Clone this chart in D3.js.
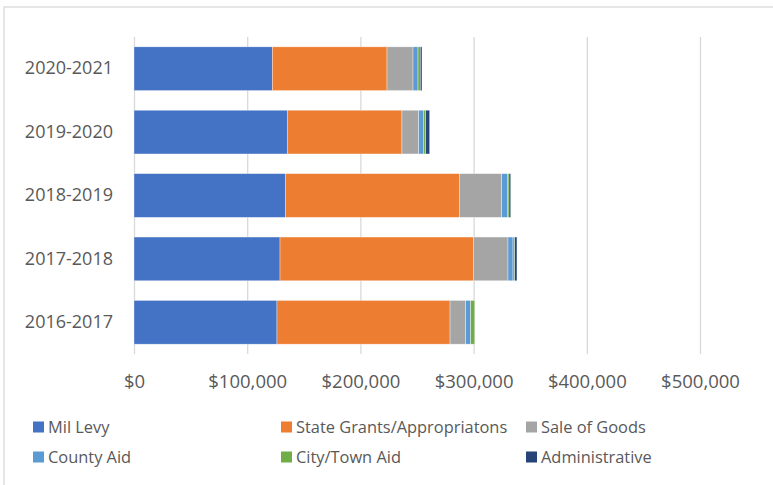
<!DOCTYPE html>
<html>
<head>
<meta charset="utf-8">
<script src="https://cdn.jsdelivr.net/npm/d3@7"></script>
<style>
  html, body { margin: 0; padding: 0; background: #fff; }
  svg { display: block; font-family: "Open Sans", "Liberation Sans", sans-serif; }
</style>
</head>
<body>
<svg id="chart" width="773" height="485"></svg>
<script>
// Fiscal years, top to bottom
const years = ["2020-2021", "2019-2020", "2018-2019", "2017-2018", "2016-2017"];

// Revenue by source, dollars, one value per fiscal year
const milLevy      = [122200, 135400, 133700, 129000, 126300];
const stateGrants  = [101300, 101300, 153700, 171100, 152900];
const saleOfGoods  = [ 23000,  14800,  37400,  30300,  13800];
const countyAid    = [  4400,   4100,   5000,   4400,   4400];
const cityTownAid  = [  2000,   2100,   1500,   1500,   3600];
const administrative = [1500,   3500,   1500,   2000,      0];

const seriesNames = ["Mil Levy", "State Grants/Appropriatons", "Sale of Goods",
                     "County Aid", "City/Town Aid", "Administrative"];
const seriesValues = [milLevy, stateGrants, saleOfGoods, countyAid, cityTownAid, administrative];
const seriesColors = ["#4472C4", "#ED7D31", "#A5A5A5", "#5B9BD5", "#70AD47", "#264478"];

const tickValues = [0, 100000, 200000, 300000, 400000, 500000];

const svg = d3.select("#chart");

// outer chart frame
svg.append("rect")
  .attr("x", 4).attr("y", 7)
  .attr("width", 800).attr("height", 500)
  .attr("fill", "none")
  .attr("stroke", "#D9D9D9")
  .attr("stroke-width", 1.3);

const plot = { left: 134, right: 700, top: 37, bottom: 354 };

const x = d3.scaleLinear().domain([0, 500000]).range([plot.left, plot.right]);
const y = d3.scaleBand().domain(years).range([plot.top, plot.bottom])
  .paddingInner(0.31).paddingOuter(0.155);

// rows for stacking
const rows = years.map((yr, i) => {
  const r = { year: yr };
  seriesNames.forEach((s, j) => { r[s] = seriesValues[j][i]; });
  return r;
});
const stacked = d3.stack().keys(seriesNames)(rows);

// vertical gridlines
const grid = svg.append("g")
  .attr("transform", `translate(0,${plot.bottom})`)
  .call(d3.axisBottom(x).tickValues(tickValues)
    .tickSize(-(plot.bottom - plot.top)).tickFormat(""));
grid.select(".domain").remove();
grid.selectAll(".tick line").attr("stroke", "#D9D9D9").attr("stroke-width", 1.3);

// stacked bars
svg.append("g").selectAll("g")
  .data(stacked)
  .join("g")
  .attr("fill", (d, i) => seriesColors[i])
  .selectAll("rect")
  .data(d => d.map(v => ({ v, year: v.data.year })))
  .join("rect")
  .attr("x", d => x(d.v[0]))
  .attr("y", d => y(d.year))
  .attr("width", d => Math.max(0, x(d.v[1]) - x(d.v[0])))
  .attr("height", y.bandwidth())
  .attr("stroke", "#fff")
  .attr("stroke-opacity", 0.6)
  .attr("stroke-width", 0.6);

// x axis labels
const fmt = v => "$" + d3.format(",")(v);
const xAxis = svg.append("g")
  .attr("transform", `translate(0,${plot.bottom})`)
  .call(d3.axisBottom(x).tickValues(tickValues).tickSize(0).tickPadding(0).tickFormat(fmt));
xAxis.select(".domain").remove();
xAxis.selectAll("text")
  .attr("y", 34)
  .attr("dy", null)
  .attr("fill", "#595959")
  .style("font-size", "18.5px")
  .style("font-family", "'Open Sans', sans-serif");

// y axis labels
const yAxis = svg.append("g")
  .attr("transform", `translate(${plot.left},0)`)
  .call(d3.axisLeft(y).tickSize(0).tickPadding(21));
yAxis.select(".domain").remove();
yAxis.selectAll("text")
  .attr("fill", "#595959")
  .style("font-size", "18px")
  .style("font-family", "'Open Sans', sans-serif");

// legend
const legendCols = [33, 281, 526];
const legendRows = [427, 457];
const legend = svg.append("g")
  .selectAll("g")
  .data(seriesNames)
  .join("g")
  .attr("transform", (d, i) => `translate(${legendCols[i % 3]},${legendRows[Math.floor(i / 3)]})`);
legend.append("rect")
  .attr("x", 0).attr("y", -5.5)
  .attr("width", 11).attr("height", 11)
  .attr("fill", (d, i) => seriesColors[i]);
legend.append("text")
  .attr("x", 15).attr("y", 0)
  .attr("dy", "0.35em")
  .attr("fill", "#595959")
  .style("font-size", "16.4px")
  .text(d => d);
</script>
</body>
</html>
